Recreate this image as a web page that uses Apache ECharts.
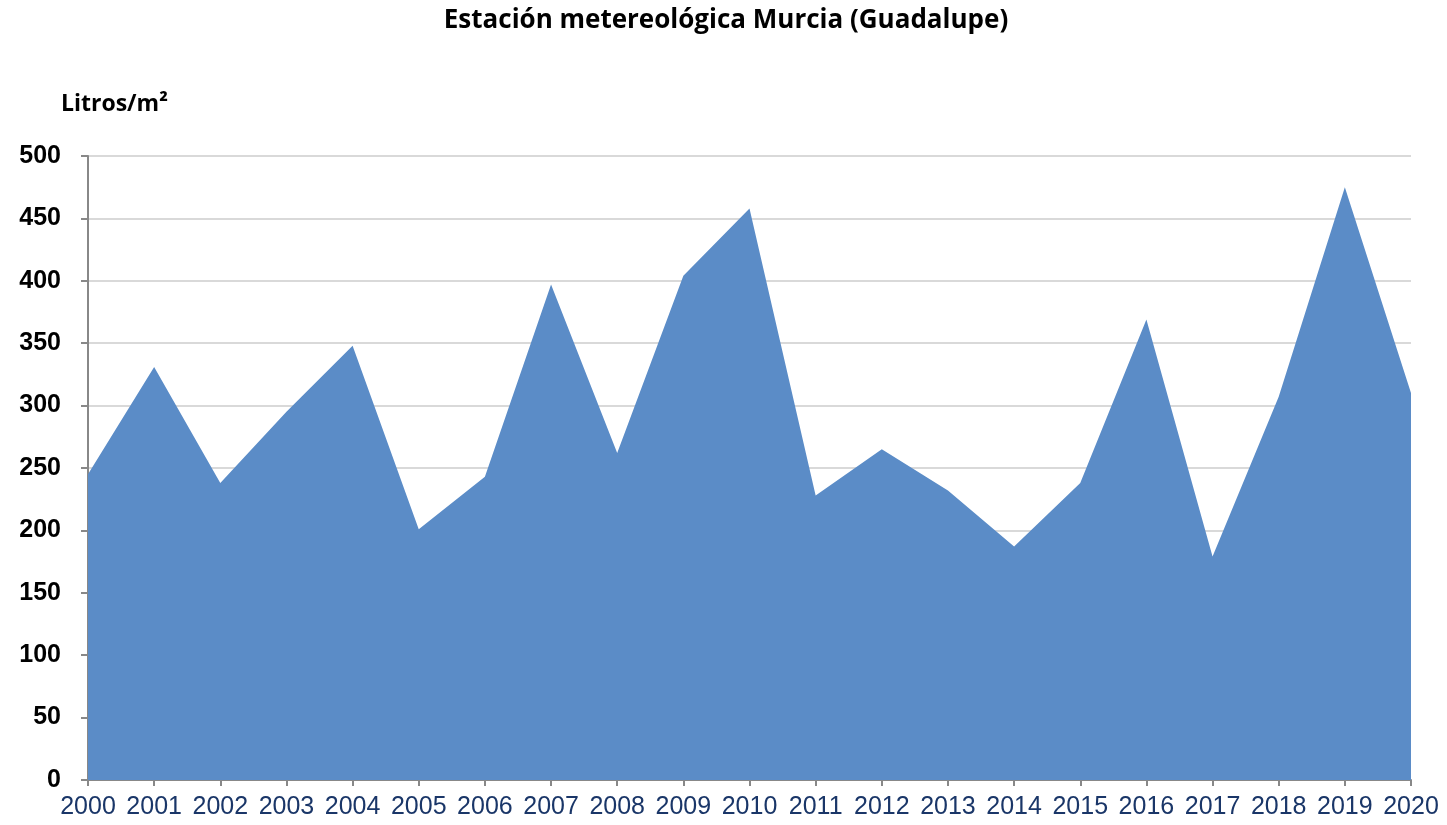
<!DOCTYPE html>
<html><head><meta charset="utf-8">
<script src="https://cdn.jsdelivr.net/npm/echarts@6/dist/echarts.min.js"></script>
<style>html,body{margin:0;padding:0;background:#fff}#c{width:1447px;height:825px}</style>
</head><body><div id="c"></div>
<script>
const years = ['2000','2001','2002','2003','2004','2005','2006','2007','2008','2009','2010','2011','2012','2013','2014','2015','2016','2017','2018','2019','2020'];
const rainfall = [245, 331, 238, 295, 348, 201, 243, 397, 262, 404, 458, 228, 265, 232, 187, 238, 369, 179, 307, 475, 310];
const yTicks = [0, 50, 100, 150, 200, 250, 300, 350, 400, 450, 500];

const chart = echarts.init(document.getElementById('c'));
chart.setOption({
  animation: false,
  title: [{
    text: 'Estación metereológica Murcia (Guadalupe)',
    left: 721, textAlign: 'center', top: 3,
    textStyle: {fontFamily: 'Open Sans', fontWeight: 'bold', fontSize: 26, color: '#000'}
  }, {
    text: 'Litros/m²',
    left: 56, top: 88,
    textStyle: {fontFamily: 'Open Sans', fontWeight: 'bold', fontSize: 23, color: '#000'}
  }],
  grid: {left: 88, right: 36, top: 156, bottom: 45},
  xAxis: {
    type: 'category', data: years, boundaryGap: false,
    axisLine: {lineStyle: {color: '#888', width: 2}},
    axisTick: {show: true, length: 6, lineStyle: {color: '#888', width: 2}},
    axisLabel: {fontFamily: 'Arial, Liberation Sans', fontSize: 25, color: '#1A3668', margin: 15, interval: 0},
    splitLine: {show: false}
  },
  yAxis: {
    type: 'value', min: yTicks[0], max: yTicks[yTicks.length - 1], interval: 50,
    axisLine: {show: true, lineStyle: {color: '#888', width: 2}},
    axisTick: {show: true, length: 7, lineStyle: {color: '#888', width: 2}},
    axisLabel: {fontFamily: 'Arial, Liberation Sans', fontWeight: 'bold', fontSize: 25, color: '#000', margin: 27},
    splitLine: {lineStyle: {color: '#D9D9D9', width: 2}}
  },
  series: [{
    type: 'line', data: rainfall,
    symbol: 'none',
    lineStyle: {width: 0, color: '#5B8CC7'},
    areaStyle: {color: '#5B8CC7', opacity: 1}
  }]
});
</script></body></html>
